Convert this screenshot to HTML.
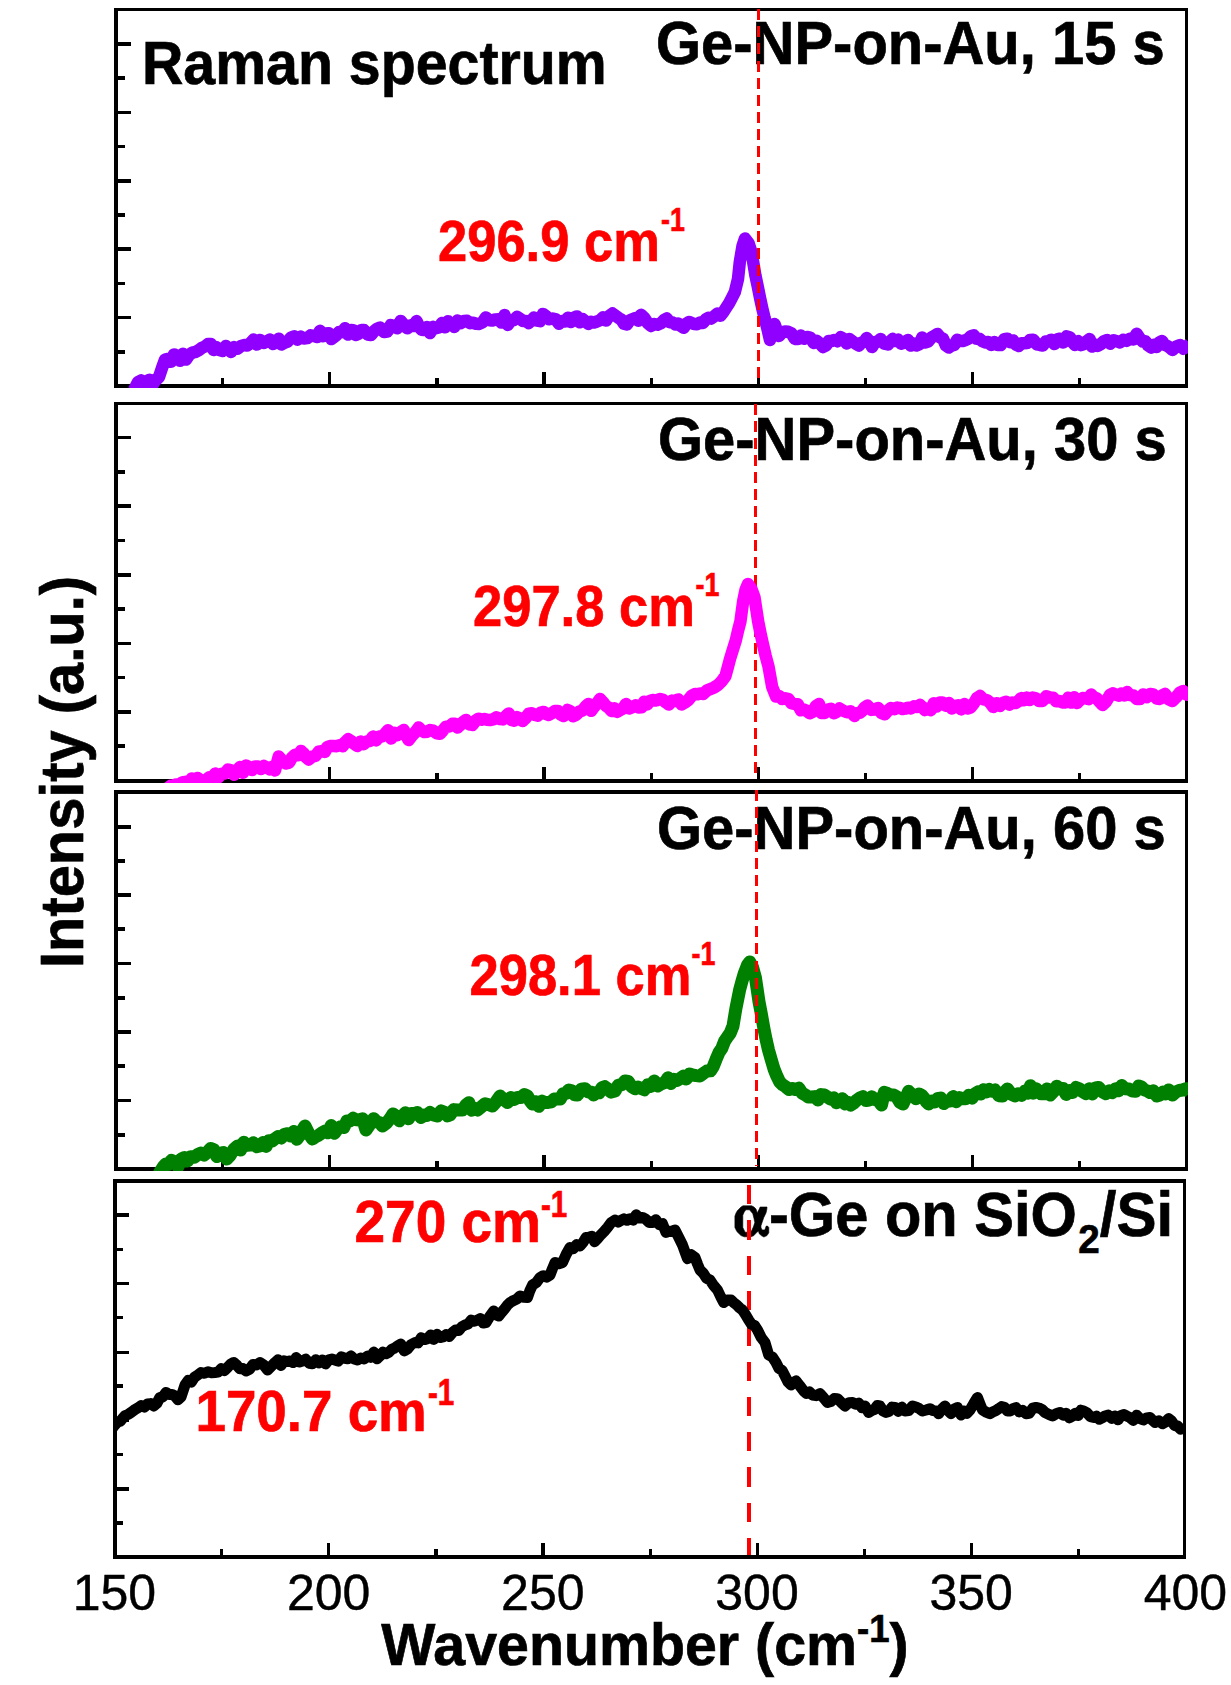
<!DOCTYPE html>
<html><head><meta charset="utf-8"><title>Raman spectrum</title>
<style>
html,body{margin:0;padding:0;background:#fff;}
body{width:1231px;height:1685px;overflow:hidden;font-family:"Liberation Sans",sans-serif;}
svg{display:block}
text{font-family:"Liberation Sans",sans-serif;}
.t{stroke:#000;stroke-width:0.45px}
.b{font-weight:bold;stroke:#000;stroke-width:0.7px}
.r{fill:#ff0000;font-weight:bold;stroke:#ff0000;stroke-width:0.7px}
</style></head><body>
<svg width="1231" height="1685" viewBox="0 0 1231 1685">
<rect width="1231" height="1685" fill="#fff"/>

<defs>
<clipPath id="c0"><rect x="114" y="8" width="1074" height="380"/></clipPath>
<clipPath id="c1"><rect x="114" y="402" width="1074" height="381"/></clipPath>
<clipPath id="c2"><rect x="114" y="790" width="1074" height="381"/></clipPath>
<clipPath id="c3"><rect x="113" y="1179" width="1070" height="380"/></clipPath>
</defs>
<g fill="#000" shape-rendering="crispEdges">
<rect x="114" y="8" width="1074" height="3"/>
<rect x="114" y="384" width="1074" height="4"/>
<rect x="114" y="8" width="4" height="380"/>
<rect x="1185" y="8" width="3" height="380"/>
<rect x="118" y="42.15" width="13" height="3.5"/>
<rect x="118" y="110.55" width="13" height="3.5"/>
<rect x="118" y="179.15" width="13" height="3.5"/>
<rect x="118" y="247.45" width="13" height="3.5"/>
<rect x="118" y="315.85" width="13" height="3.5"/>
<rect x="118" y="76.15" width="6.5" height="3.5"/>
<rect x="118" y="144.75" width="6.5" height="3.5"/>
<rect x="118" y="213.15" width="6.5" height="3.5"/>
<rect x="118" y="281.55" width="6.5" height="3.5"/>
<rect x="118" y="350.05" width="6.5" height="3.5"/>
<rect x="221.1" y="378" width="3.2" height="6"/>
<rect x="328.2" y="372" width="3.2" height="12"/>
<rect x="435.3" y="378" width="3.2" height="6"/>
<rect x="542.4" y="372" width="3.2" height="12"/>
<rect x="649.5" y="378" width="3.2" height="6"/>
<rect x="756.6" y="372" width="3.2" height="12"/>
<rect x="863.7" y="378" width="3.2" height="6"/>
<rect x="970.8" y="372" width="3.2" height="12"/>
<rect x="1077.9" y="378" width="3.2" height="6"/>
<rect x="114" y="402" width="1074" height="3"/>
<rect x="114" y="779" width="1074" height="4"/>
<rect x="114" y="402" width="4" height="381"/>
<rect x="1185" y="402" width="3" height="381"/>
<rect x="118" y="435.95" width="13" height="3.5"/>
<rect x="118" y="504.45" width="13" height="3.5"/>
<rect x="118" y="573.15" width="13" height="3.5"/>
<rect x="118" y="641.75" width="13" height="3.5"/>
<rect x="118" y="710.15" width="13" height="3.5"/>
<rect x="118" y="470.05" width="6.5" height="3.5"/>
<rect x="118" y="538.55" width="6.5" height="3.5"/>
<rect x="118" y="607.05" width="6.5" height="3.5"/>
<rect x="118" y="675.75" width="6.5" height="3.5"/>
<rect x="118" y="744.15" width="6.5" height="3.5"/>
<rect x="221.1" y="773" width="3.2" height="6"/>
<rect x="328.2" y="767" width="3.2" height="12"/>
<rect x="435.3" y="773" width="3.2" height="6"/>
<rect x="542.4" y="767" width="3.2" height="12"/>
<rect x="649.5" y="773" width="3.2" height="6"/>
<rect x="756.6" y="767" width="3.2" height="12"/>
<rect x="863.7" y="773" width="3.2" height="6"/>
<rect x="970.8" y="767" width="3.2" height="12"/>
<rect x="1077.9" y="773" width="3.2" height="6"/>
<rect x="114" y="790" width="1074" height="4"/>
<rect x="114" y="1167" width="1074" height="4"/>
<rect x="114" y="790" width="4" height="381"/>
<rect x="1185" y="790" width="3" height="381"/>
<rect x="118" y="825.05" width="13" height="3.5"/>
<rect x="118" y="893.35" width="13" height="3.5"/>
<rect x="118" y="961.65" width="13" height="3.5"/>
<rect x="118" y="1030.45" width="13" height="3.5"/>
<rect x="118" y="1098.75" width="13" height="3.5"/>
<rect x="118" y="859.05" width="6.5" height="3.5"/>
<rect x="118" y="927.35" width="6.5" height="3.5"/>
<rect x="118" y="996.05" width="6.5" height="3.5"/>
<rect x="118" y="1064.45" width="6.5" height="3.5"/>
<rect x="118" y="1133.15" width="6.5" height="3.5"/>
<rect x="221.1" y="1161" width="3.2" height="6"/>
<rect x="328.2" y="1155" width="3.2" height="12"/>
<rect x="435.3" y="1161" width="3.2" height="6"/>
<rect x="542.4" y="1155" width="3.2" height="12"/>
<rect x="649.5" y="1161" width="3.2" height="6"/>
<rect x="756.6" y="1155" width="3.2" height="12"/>
<rect x="863.7" y="1161" width="3.2" height="6"/>
<rect x="970.8" y="1155" width="3.2" height="12"/>
<rect x="1077.9" y="1161" width="3.2" height="6"/>
<rect x="113" y="1179" width="1073" height="4"/>
<rect x="113" y="1555" width="1073" height="4"/>
<rect x="113" y="1179" width="4" height="380"/>
<rect x="1183" y="1179" width="3" height="380"/>
<rect x="117" y="1213.45" width="12" height="3.5"/>
<rect x="117" y="1281.85" width="12" height="3.5"/>
<rect x="117" y="1350.55" width="12" height="3.5"/>
<rect x="117" y="1418.75" width="12" height="3.5"/>
<rect x="117" y="1487.05" width="12" height="3.5"/>
<rect x="117" y="1247.75" width="5.5" height="3.5"/>
<rect x="117" y="1315.95" width="5.5" height="3.5"/>
<rect x="117" y="1384.25" width="5.5" height="3.5"/>
<rect x="117" y="1452.55" width="5.5" height="3.5"/>
<rect x="117" y="1521.25" width="5.5" height="3.5"/>
<rect x="220.1" y="1549" width="3.2" height="6"/>
<rect x="327.2" y="1543" width="3.2" height="12"/>
<rect x="434.3" y="1549" width="3.2" height="6"/>
<rect x="541.4" y="1543" width="3.2" height="12"/>
<rect x="648.5" y="1549" width="3.2" height="6"/>
<rect x="755.6" y="1543" width="3.2" height="12"/>
<rect x="862.7" y="1549" width="3.2" height="6"/>
<rect x="969.8" y="1543" width="3.2" height="12"/>
<rect x="1076.9" y="1549" width="3.2" height="6"/>
</g>
<polyline clip-path="url(#c0)" points="134.0,390.0 138.0,382.0 141.0,380.5 144.0,384.4 147.0,381.0 149.7,379.8 152.3,385.4 155.0,381.0 159.0,377.0 162.0,368.0 165.0,359.5 168.0,358.8 171.0,361.8 174.0,354.4 177.0,357.5 180.0,360.8 183.0,353.7 186.0,359.6 189.0,355.0 192.3,352.7 195.7,351.9 199.0,350.0 202.0,347.7 205.0,346.5 208.0,344.0 210.8,344.1 213.5,350.0 216.2,347.1 219.0,350.0 222.5,350.9 226.0,346.0 228.5,349.0 231.0,352.0 234.2,347.2 237.5,348.6 240.8,346.2 244.0,345.0 247.2,345.6 250.4,343.2 253.6,339.6 256.8,344.6 260.0,340.0 264.0,343.0 267.0,341.2 270.0,339.6 273.0,344.1 276.0,342.0 278.7,338.7 281.3,344.5 284.0,343.0 287.5,341.6 291.0,337.5 294.2,336.3 297.5,339.7 300.8,336.7 304.0,338.5 307.3,338.1 310.7,335.3 314.0,336.0 317.0,336.9 320.0,330.8 323.0,336.2 326.0,333.5 328.7,333.2 331.3,339.1 334.0,337.0 336.5,335.0 339.0,332.0 342.0,332.2 345.0,328.3 348.0,334.6 351.0,330.0 353.5,330.2 356.0,335.0 358.7,333.6 361.3,330.0 364.0,330.0 367.5,334.5 371.0,335.0 374.0,331.3 377.0,328.7 380.0,327.5 384.0,332.0 387.3,331.5 390.7,325.1 394.0,326.0 397.3,328.3 400.7,320.9 404.0,325.0 407.3,328.3 410.7,325.2 414.0,326.0 416.5,321.1 419.0,326.0 421.5,329.7 424.0,330.0 427.0,327.0 430.0,333.1 433.0,326.8 436.0,328.2 439.0,327.5 442.0,323.0 445.0,327.3 448.0,321.2 451.0,323.7 454.2,327.0 457.5,320.5 460.8,323.2 464.0,321.0 467.0,320.8 470.0,323.2 473.0,322.7 476.0,323.7 479.2,323.9 482.5,322.4 485.8,317.4 489.0,320.0 492.1,320.6 495.2,319.4 498.4,319.3 501.5,322.6 504.6,315.1 507.8,324.9 510.9,320.6 514.0,320.0 517.0,316.9 520.0,318.8 523.0,321.1 526.0,321.0 528.7,323.1 531.3,320.6 534.0,317.5 537.0,320.6 540.0,321.1 543.0,313.9 546.0,316.0 549.2,319.3 552.5,318.5 555.8,319.4 559.0,323.7 562.0,320.9 565.0,321.5 568.0,317.8 571.0,322.0 574.0,317.5 576.9,316.4 579.7,322.3 582.6,319.0 585.4,321.3 588.3,323.9 591.1,321.8 594.0,322.5 597.0,321.5 600.0,320.3 603.0,317.3 606.0,320.6 609.0,316.0 612.5,313.5 616.0,316.0 618.7,318.0 621.3,319.6 624.0,323.7 626.9,324.5 629.7,320.3 632.6,319.2 635.4,318.0 638.3,320.7 641.1,314.8 644.0,317.5 647.5,322.8 651.0,326.0 654.2,324.0 657.5,324.7 660.8,323.3 664.0,320.0 666.8,318.5 669.7,322.3 672.5,322.5 675.3,324.5 678.2,323.5 681.0,326.0 683.7,327.8 686.3,323.8 689.0,322.0 691.5,322.9 694.0,324.0 697.0,324.2 700.0,322.6 703.0,323.0 705.8,319.4 708.5,317.7 711.2,318.6 714.0,316.5 717.2,313.7 720.4,315.7 723.6,311.8 726.3,307.5 729.0,303.4 731.9,297.9 734.8,292.2 738.0,279.0 739.8,262.0 742.5,246.0 745.0,238.5 748.5,243.0 751.7,253.0 755.4,275.4 757.7,286.2 760.0,297.8 762.4,308.8 764.7,318.4 767.4,328.6 770.0,340.0 772.2,331.8 774.5,324.0 776.8,330.2 779.0,336.0 782.0,332.4 785.0,331.5 788.2,331.8 791.5,333.4 794.8,338.9 798.0,339.0 801.0,335.6 804.0,338.7 807.0,337.0 810.3,337.6 813.7,343.0 817.0,341.0 820.0,343.5 823.0,347.1 826.0,345.5 828.7,341.0 831.3,341.1 834.0,340.0 837.3,341.3 840.7,337.2 844.0,339.0 846.7,343.5 849.3,339.0 852.0,341.0 855.5,343.5 859.0,345.5 861.5,342.5 864.1,341.9 866.6,338.0 869.3,340.9 872.0,347.0 874.9,342.0 877.7,341.9 880.6,339.0 884.3,343.7 888.0,344.5 890.4,341.2 892.7,339.0 895.5,341.0 898.2,339.7 901.0,343.6 905.0,342.5 907.9,339.9 910.7,345.6 913.6,343.7 916.4,345.5 919.3,344.2 922.1,337.6 925.0,342.5 928.1,341.5 931.2,337.7 934.4,335.8 937.5,334.0 940.3,337.6 943.1,338.8 945.9,345.5 948.7,347.5 951.5,345.6 954.4,344.9 957.2,339.7 960.0,341.0 962.8,341.0 965.5,340.1 968.2,338.9 971.0,336.0 973.8,335.4 976.5,338.8 979.2,338.7 982.0,341.0 985.1,342.4 988.2,342.0 991.3,345.1 994.4,342.0 997.5,345.0 1000.8,345.0 1004.2,339.2 1007.5,338.7 1010.3,342.1 1013.1,340.4 1015.9,344.6 1018.7,346.0 1021.5,343.3 1024.3,343.2 1027.2,343.1 1030.0,340.0 1033.3,339.7 1036.7,344.3 1040.0,345.0 1042.9,345.5 1045.7,341.5 1048.6,341.1 1051.4,339.7 1054.3,344.1 1057.1,339.3 1060.0,338.7 1063.3,342.6 1066.7,336.4 1070.0,337.5 1072.5,342.3 1075.0,345.0 1078.0,341.1 1081.0,345.1 1084.0,344.1 1087.0,341.0 1089.6,339.1 1092.2,346.6 1094.9,344.6 1097.5,346.0 1100.7,344.3 1103.8,341.3 1107.0,340.0 1110.2,343.7 1113.5,340.2 1116.8,341.2 1120.0,342.5 1123.3,339.8 1126.7,340.9 1130.0,338.7 1133.3,339.4 1136.7,333.8 1140.0,338.7 1142.8,341.6 1145.5,341.3 1148.2,345.5 1151.0,347.5 1153.8,344.7 1156.5,347.1 1159.2,342.5 1162.0,341.0 1164.6,344.9 1167.2,345.8 1169.9,347.8 1172.5,350.0 1176.2,346.5 1180.0,345.0 1183.3,348.7 1186.7,346.7 1190.0,343.5" fill="none" stroke="#8f00ff" stroke-width="12.5" stroke-linejoin="round" stroke-linecap="butt"/>
<polyline clip-path="url(#c2)" points="155.0,1178.0 157.5,1176.8 160.0,1172.0 163.5,1166.5 165.8,1164.1 168.0,1164.5 171.5,1160.3 175.0,1162.0 178.1,1166.5 181.2,1158.9 184.4,1157.6 187.5,1161.0 190.8,1156.8 194.2,1157.2 197.5,1154.7 200.8,1153.1 204.2,1155.1 207.5,1152.0 210.6,1148.5 213.8,1149.6 216.9,1156.6 220.0,1153.5 223.3,1152.6 226.7,1159.1 230.0,1155.5 233.8,1149.4 237.5,1146.0 240.6,1150.0 243.8,1142.3 246.9,1145.4 250.0,1145.0 253.3,1142.8 256.7,1146.7 260.0,1146.0 263.0,1142.5 266.0,1146.4 269.0,1140.7 272.0,1141.1 275.0,1138.7 278.1,1136.5 281.2,1138.0 284.4,1134.3 287.5,1133.7 290.6,1136.0 293.8,1131.5 296.9,1139.3 300.0,1135.0 302.5,1130.0 305.0,1126.0 308.8,1133.6 312.5,1139.0 315.6,1136.8 318.8,1135.2 321.9,1132.8 325.0,1131.0 328.1,1132.8 331.2,1125.5 334.4,1133.2 337.5,1128.7 340.6,1126.7 343.8,1127.5 346.9,1121.0 350.0,1121.0 353.1,1118.2 356.2,1119.8 359.4,1119.9 362.5,1118.7 366.0,1130.0 368.6,1126.3 371.1,1122.2 373.7,1118.7 376.6,1121.9 379.6,1122.5 382.5,1126.0 386.2,1123.3 390.0,1118.7 393.1,1113.9 396.2,1116.2 399.4,1120.8 402.5,1116.0 405.5,1112.8 408.5,1118.7 411.5,1113.5 414.5,1113.4 417.5,1112.5 421.0,1117.5 424.0,1114.9 427.0,1115.4 430.0,1112.5 433.8,1114.9 437.5,1116.0 441.2,1110.9 445.0,1112.5 447.5,1115.9 450.0,1115.0 453.8,1109.6 457.5,1110.0 460.0,1109.9 462.5,1110.0 466.0,1105.0 468.9,1102.8 471.8,1110.2 474.6,1108.3 477.5,1110.0 481.2,1106.9 485.0,1103.7 488.8,1104.7 492.5,1106.0 496.2,1101.7 500.0,1096.0 503.8,1099.4 507.5,1102.5 510.8,1097.6 514.2,1099.4 517.5,1097.5 520.8,1097.5 524.2,1094.6 527.5,1096.0 530.0,1100.7 532.5,1104.0 535.6,1101.7 538.8,1106.3 541.9,1101.1 545.0,1102.5 548.1,1102.4 551.2,1101.8 554.4,1099.0 557.5,1098.7 560.3,1099.0 563.1,1093.7 565.9,1093.6 568.7,1090.0 571.6,1090.8 574.6,1094.7 577.5,1095.0 581.2,1089.2 585.0,1088.7 587.9,1091.9 590.8,1091.9 593.7,1095.0 596.5,1092.5 599.2,1092.8 602.0,1087.8 604.7,1086.6 607.5,1088.7 611.2,1092.1 615.0,1091.0 618.3,1085.3 621.7,1084.9 625.0,1081.0 628.3,1081.5 631.7,1086.7 635.0,1088.7 638.1,1087.0 641.2,1088.5 644.4,1089.8 647.5,1085.0 650.8,1086.4 654.2,1081.0 657.5,1086.0 661.2,1083.9 665.0,1082.5 668.0,1077.8 671.0,1083.5 674.0,1079.3 677.0,1080.5 680.0,1078.7 683.1,1076.3 686.2,1079.0 689.4,1074.0 692.5,1075.0 696.2,1075.6 700.0,1076.0 703.0,1073.6 706.8,1071.1 710.5,1070.8 713.2,1066.7 716.0,1059.6 718.9,1052.7 721.8,1048.4 724.6,1041.2 727.4,1037.0 730.2,1033.1 733.0,1026.0 735.8,1009.0 739.5,990.4 741.9,981.3 744.2,973.6 747.5,965.0 749.8,962.0 752.5,967.0 755.4,977.4 759.0,1001.7 761.4,1014.3 763.8,1027.8 766.1,1039.5 768.5,1050.0 771.2,1059.5 774.0,1069.0 776.9,1076.2 779.7,1082.0 782.8,1084.9 785.9,1086.9 789.0,1089.5 792.2,1088.4 795.5,1089.6 798.8,1088.2 802.0,1093.0 805.2,1094.8 808.3,1097.1 811.5,1097.0 814.8,1096.6 818.0,1100.0 821.2,1094.6 824.5,1095.0 827.5,1097.1 830.5,1099.1 833.5,1097.9 836.5,1102.8 839.5,1100.7 842.3,1098.7 845.1,1104.0 847.9,1102.3 850.7,1105.0 853.8,1103.0 856.9,1100.1 860.0,1098.0 863.0,1096.6 866.0,1100.5 869.0,1100.0 871.7,1096.8 874.3,1099.5 877.0,1099.0 879.2,1101.8 881.5,1105.0 884.3,1092.3 887.4,1093.4 890.6,1095.1 893.7,1095.0 896.8,1096.9 899.9,1102.3 903.0,1104.0 905.8,1098.0 908.6,1091.3 912.3,1094.9 916.0,1098.8 919.0,1094.0 921.5,1095.1 924.0,1098.0 926.4,1101.8 928.7,1104.0 931.6,1101.0 934.6,1102.0 937.5,1098.7 940.6,1098.0 943.8,1103.6 946.9,1101.3 950.0,1101.0 953.1,1096.6 956.2,1101.7 959.4,1097.6 962.5,1098.7 965.6,1098.8 968.8,1095.2 971.9,1098.2 975.0,1093.7 977.9,1091.9 980.7,1094.0 983.6,1089.7 986.4,1092.1 989.3,1089.4 992.1,1091.2 995.0,1090.0 998.8,1095.7 1002.5,1096.0 1005.0,1091.7 1007.5,1089.0 1011.2,1094.1 1015.0,1096.0 1018.3,1093.7 1021.7,1095.3 1025.0,1091.0 1027.8,1093.3 1030.5,1085.7 1033.2,1093.2 1036.0,1088.7 1038.6,1091.0 1041.1,1093.8 1043.7,1093.7 1047.0,1088.9 1050.2,1095.1 1053.5,1091.6 1056.7,1086.2 1060.0,1088.7 1063.1,1088.6 1066.2,1094.4 1069.4,1090.7 1072.5,1092.5 1076.0,1087.5 1079.3,1088.8 1082.7,1091.7 1086.0,1093.7 1089.2,1088.8 1092.3,1093.9 1095.5,1088.0 1098.7,1087.5 1102.3,1091.7 1106.0,1093.7 1109.2,1090.9 1112.3,1092.8 1115.5,1088.8 1118.7,1090.7 1121.8,1085.5 1125.0,1088.7 1128.8,1089.0 1132.5,1091.0 1135.6,1091.2 1138.7,1086.0 1141.5,1086.9 1144.3,1089.9 1147.2,1090.9 1150.0,1092.5 1153.3,1090.8 1156.7,1096.0 1160.0,1095.0 1162.9,1092.1 1165.8,1093.9 1168.7,1090.0 1172.5,1095.0 1175.8,1091.9 1179.2,1090.5 1182.5,1090.0 1186.2,1088.7 1190.0,1092.5" fill="none" stroke="#008000" stroke-width="13" stroke-linejoin="round" stroke-linecap="butt"/>
<text class="t" x="114.4" y="1609.7" font-size="50" text-anchor="middle">150</text>
<text class="t" x="328.6" y="1609.7" font-size="50" text-anchor="middle">200</text>
<text class="t" x="542.8" y="1609.7" font-size="50" text-anchor="middle">250</text>
<text class="t" x="757.0" y="1609.7" font-size="50" text-anchor="middle">300</text>
<text class="t" x="971.2" y="1609.7" font-size="50" text-anchor="middle">350</text>
<text class="t" x="1185.4" y="1609.7" font-size="50" text-anchor="middle">400</text>
<text class="b" transform="translate(381.3,1664.6) scale(0.962,1)" font-size="59.6" >Wavenumber (cm<tspan dy="-23" font-size="38">-1</tspan><tspan dy="23">)</tspan></text>
<text class="b" transform="translate(82.5,968) rotate(-90) scale(0.956,1)" font-size="60.5">Intensity (a.u.)</text>
<text class="b" transform="translate(142,84) scale(0.939,1)" font-size="61" >Raman spectrum</text>
<text class="b" transform="translate(656,64) scale(0.935,1)" font-size="62" >Ge-NP-on-Au, 15 s</text>
<text class="b" transform="translate(658,460) scale(0.935,1)" font-size="62" >Ge-NP-on-Au, 30 s</text>
<text class="b" transform="translate(657,849) scale(0.935,1)" font-size="62" >Ge-NP-on-Au, 60 s</text>
<path transform="translate(728,1195)" d="M13.0,12.0 L15.0,10.8 L23.6,10.8 L26.0,12.0 L28.0,14.0 L29.2,17.9 L31.3,14.0 L32.1,12.0 L39.0,12.0 L38.8,14.6 L38.0,17.9 L35.7,22.7 L33.9,28.0 L32.9,30.9 L33.1,32.9 L34.1,34.9 L36.8,34.9 L38.2,31.1 L39.6,31.1 L40.8,32.5 L40.8,37.8 L39.0,40.6 L35.9,42.0 L33.3,40.6 L31.1,38.6 L30.5,35.9 L28.4,37.8 L25.6,40.8 L22.7,41.8 L16.2,41.8 L13.0,40.6 L8.9,36.6 L6.9,32.5 L6.9,21.1 L8.1,17.9 L9.3,15.8Z M17.9,14.8 L21.5,14.8 L24.8,18.7 L26.0,23.6 L26.8,27.6 L25.6,31.3 L24.0,34.9 L22.7,37.2 L17.1,37.2 L14.8,32.5 L14.8,20.3 L16.2,17.1Z" fill="#000" fill-rule="evenodd" stroke="#000" stroke-width="0.6" stroke-linejoin="round"/>
<text class="b" transform="translate(769,1236) scale(0.946,1)" font-size="63" >-Ge on SiO</text>
<text class="b" transform="translate(1078.3,1252.6) scale(0.93,1)" font-size="41.5" >2</text>
<text class="b" transform="translate(1099.8,1236) scale(0.952,1)" font-size="63" >/Si</text>
<text class="r" transform="translate(438,261) scale(0.91,1)" font-size="57.7" >296.9 cm</text><text class="r" transform="translate(661,231) scale(0.8,1)" font-size="33.5" >-1</text>
<text class="r" transform="translate(473,626) scale(0.91,1)" font-size="57.7" >297.8 cm</text><text class="r" transform="translate(695.5,596) scale(0.8,1)" font-size="33.5" >-1</text>
<text class="r" transform="translate(469.5,995) scale(0.91,1)" font-size="57.7" >298.1 cm</text><text class="r" transform="translate(691.5,965) scale(0.8,1)" font-size="33.5" >-1</text>
<text class="r" transform="translate(354.5,1242) scale(0.94,1)" font-size="58.5" >270 cm</text><text class="r" transform="translate(541,1216.5) scale(0.8,1)" font-size="37" >-1</text>
<text class="r" transform="translate(195.5,1431) scale(0.952,1)" font-size="57.5" >170.7 cm</text><text class="r" transform="translate(428,1405) scale(0.8,1)" font-size="37" >-1</text>
<g fill="#ff0000" shape-rendering="crispEdges"><rect x="757.0" y="9.3" width="3" height="11.0"/><rect x="757.0" y="26.4" width="3" height="11.0"/><rect x="757.0" y="43.4" width="3" height="11.0"/><rect x="757.0" y="60.5" width="3" height="11.0"/><rect x="757.0" y="77.5" width="3" height="11.0"/><rect x="757.0" y="94.5" width="3" height="11.0"/><rect x="757.0" y="111.6" width="3" height="11.0"/><rect x="757.0" y="128.7" width="3" height="11.0"/><rect x="757.0" y="145.7" width="3" height="11.0"/><rect x="757.0" y="162.8" width="3" height="11.0"/><rect x="757.0" y="179.8" width="3" height="11.0"/><rect x="757.0" y="196.9" width="3" height="11.0"/><rect x="757.0" y="213.9" width="3" height="11.0"/><rect x="757.0" y="231.0" width="3" height="11.0"/><rect x="757.0" y="248.0" width="3" height="11.0"/><rect x="757.0" y="265.1" width="3" height="11.0"/><rect x="757.0" y="282.1" width="3" height="11.0"/><rect x="757.0" y="299.2" width="3" height="11.0"/><rect x="757.0" y="316.2" width="3" height="11.0"/><rect x="757.0" y="333.3" width="3" height="11.0"/><rect x="757.0" y="350.3" width="3" height="11.0"/><rect x="757.0" y="367.4" width="3" height="11.0"/><rect x="754.0" y="404.0" width="3" height="11.0"/><rect x="754.0" y="421.1" width="3" height="11.0"/><rect x="754.0" y="438.1" width="3" height="11.0"/><rect x="754.0" y="455.2" width="3" height="11.0"/><rect x="754.0" y="472.2" width="3" height="11.0"/><rect x="754.0" y="489.3" width="3" height="11.0"/><rect x="754.0" y="506.3" width="3" height="11.0"/><rect x="754.0" y="523.4" width="3" height="11.0"/><rect x="754.0" y="540.4" width="3" height="11.0"/><rect x="754.0" y="557.4" width="3" height="11.0"/><rect x="754.0" y="574.5" width="3" height="11.0"/><rect x="754.0" y="591.5" width="3" height="11.0"/><rect x="754.0" y="608.6" width="3" height="11.0"/><rect x="754.0" y="625.6" width="3" height="11.0"/><rect x="754.0" y="642.7" width="3" height="11.0"/><rect x="754.0" y="659.7" width="3" height="11.0"/><rect x="754.0" y="676.8" width="3" height="11.0"/><rect x="754.0" y="693.8" width="3" height="11.0"/><rect x="754.0" y="710.9" width="3" height="11.0"/><rect x="754.0" y="727.9" width="3" height="11.0"/><rect x="754.0" y="745.0" width="3" height="11.0"/><rect x="754.0" y="762.0" width="3" height="11.0"/><rect x="755.0" y="790.0" width="3" height="11.0"/><rect x="755.0" y="807.0" width="3" height="11.0"/><rect x="755.0" y="824.1" width="3" height="11.0"/><rect x="755.0" y="841.1" width="3" height="11.0"/><rect x="755.0" y="858.2" width="3" height="11.0"/><rect x="755.0" y="875.2" width="3" height="11.0"/><rect x="755.0" y="892.3" width="3" height="11.0"/><rect x="755.0" y="909.3" width="3" height="11.0"/><rect x="755.0" y="926.4" width="3" height="11.0"/><rect x="755.0" y="943.4" width="3" height="11.0"/><rect x="755.0" y="960.5" width="3" height="11.0"/><rect x="755.0" y="977.5" width="3" height="11.0"/><rect x="755.0" y="994.6" width="3" height="11.0"/><rect x="755.0" y="1011.6" width="3" height="11.0"/><rect x="755.0" y="1028.7" width="3" height="11.0"/><rect x="755.0" y="1045.7" width="3" height="11.0"/><rect x="755.0" y="1062.8" width="3" height="11.0"/><rect x="755.0" y="1079.8" width="3" height="11.0"/><rect x="755.0" y="1096.9" width="3" height="11.0"/><rect x="755.0" y="1113.9" width="3" height="11.0"/><rect x="755.0" y="1131.0" width="3" height="11.0"/><rect x="755.0" y="1148.0" width="3" height="11.0"/><rect x="755.0" y="1165.1" width="3" height="0.9"/></g>
<polyline clip-path="url(#c1)" points="168.0,788.0 170.7,785.8 173.3,785.4 176.0,784.5 179.2,784.6 182.3,782.4 185.5,781.8 188.7,784.1 191.8,778.4 195.0,782.0 197.8,778.0 200.7,780.5 203.5,780.7 206.3,779.9 209.2,777.2 212.0,778.0 215.2,773.6 218.5,777.2 221.8,773.7 225.0,773.5 228.0,769.6 231.0,770.4 234.0,774.8 237.0,770.5 240.0,767.0 243.0,772.7 246.0,765.6 249.0,766.9 252.0,770.1 255.0,766.5 258.0,766.6 261.0,769.1 264.0,766.0 267.0,767.5 269.7,769.3 272.3,766.7 275.0,770.5 278.7,756.5 282.4,760.8 286.0,763.5 289.0,762.7 292.0,757.5 295.0,754.7 298.0,755.3 301.0,751.0 303.6,753.4 306.1,757.3 308.7,759.5 312.0,756.7 315.4,756.0 318.7,751.7 322.0,751.0 324.7,752.0 327.3,747.0 330.0,746.0 333.3,746.0 336.7,746.2 340.0,745.0 342.8,746.1 345.5,741.9 348.2,739.2 351.0,741.0 354.2,743.8 357.5,746.0 360.6,741.6 363.8,744.1 366.9,741.4 370.0,741.0 373.0,736.6 376.0,740.4 379.0,736.4 382.0,736.6 385.0,733.7 388.1,730.3 391.2,738.5 394.4,732.8 397.5,735.0 400.6,732.2 403.7,730.0 406.2,735.7 408.7,740.0 412.0,735.7 415.4,732.2 418.7,727.5 421.5,730.4 424.4,732.1 427.2,731.7 430.0,730.0 433.3,730.7 436.7,733.2 440.0,733.7 442.5,731.0 445.8,726.7 449.2,726.5 452.5,723.7 455.0,723.8 457.5,727.5 460.3,725.1 463.2,721.9 466.0,720.0 469.2,724.3 472.5,725.0 475.6,720.6 478.7,718.7 481.5,719.7 484.4,718.9 487.2,719.7 490.0,720.0 493.2,719.4 496.4,717.4 499.6,719.0 502.8,719.4 506.0,716.0 508.8,713.4 511.5,720.0 514.2,720.7 517.0,717.1 519.8,718.4 522.5,721.0 525.6,718.2 528.7,713.7 531.8,713.3 534.9,714.9 537.9,715.6 541.0,712.5 543.6,711.9 546.1,713.9 548.7,715.0 551.9,713.1 555.0,711.0 557.9,710.9 560.8,714.6 563.7,716.0 567.5,710.0 570.3,711.2 573.2,716.1 576.0,715.0 579.3,711.6 582.7,710.3 586.0,706.0 588.6,703.9 591.1,710.8 593.7,707.5 596.9,703.6 600.0,699.0 603.0,702.2 606.0,706.0 608.8,707.7 611.6,711.1 614.4,708.2 617.2,711.9 620.0,710.0 623.0,708.6 626.0,704.0 629.2,708.4 632.4,707.1 635.5,705.4 638.7,707.5 641.5,707.3 644.2,701.7 647.0,704.5 649.7,701.1 652.5,700.0 656.2,700.6 660.0,699.0 663.0,699.8 666.0,702.5 669.0,704.6 672.0,700.6 675.0,701.0 678.3,699.4 681.7,704.5 685.0,702.5 688.3,700.0 691.7,695.8 695.0,694.0 697.7,694.2 700.3,693.4 703.0,694.0 706.8,690.6 710.5,689.0 714.2,687.4 718.0,685.0 721.8,681.1 725.5,676.0 727.8,667.3 730.0,659.0 732.9,649.7 735.8,640.3 738.1,630.4 740.4,621.7 743.2,601.0 745.5,590.0 748.0,584.0 751.5,589.0 754.5,597.4 758.2,621.7 760.5,633.2 762.9,644.0 765.7,656.0 768.5,666.5 772.2,687.0 776.0,696.4 779.1,695.9 782.2,699.0 785.3,698.3 788.4,699.1 791.5,703.2 794.6,704.0 797.7,704.2 800.9,710.2 804.0,709.5 806.8,710.9 809.6,713.2 812.7,711.8 815.9,706.2 819.0,704.0 821.7,713.0 824.9,712.9 828.0,709.5 831.0,708.7 834.0,713.2 836.8,711.7 839.5,708.5 843.2,710.8 847.0,712.3 850.7,711.2 854.4,716.0 856.9,713.2 859.5,712.9 862.0,711.0 864.8,707.3 867.5,705.7 871.2,709.9 875.0,709.5 878.2,708.0 881.5,713.1 884.8,714.2 888.0,710.4 891.1,708.0 894.3,709.3 897.4,707.6 899.9,707.9 902.5,709.1 905.0,708.7 908.0,707.7 911.0,708.4 914.0,706.3 917.0,707.0 920.0,705.0 922.5,707.5 925.0,710.0 927.9,708.5 930.8,710.2 933.8,703.2 936.7,706.6 939.6,702.6 942.5,702.5 945.6,705.7 948.8,702.9 951.9,708.5 955.0,706.0 958.1,705.4 961.2,709.4 964.4,704.1 967.5,708.5 970.6,707.5 973.8,703.4 976.9,698.2 980.0,696.0 983.3,699.3 986.7,700.0 990.0,702.5 993.3,706.9 996.7,703.3 1000.0,706.0 1003.1,702.7 1006.2,701.8 1009.4,704.6 1012.5,702.5 1015.4,703.1 1018.2,701.4 1021.1,698.1 1023.9,700.3 1026.8,697.5 1029.6,700.1 1032.5,697.5 1035.8,698.3 1039.2,701.1 1042.5,701.0 1046.2,696.3 1050.0,697.5 1053.1,697.8 1056.2,701.2 1059.4,700.9 1062.5,702.5 1065.4,702.4 1068.3,697.7 1071.2,702.6 1074.2,697.2 1077.1,703.0 1080.0,700.0 1082.8,698.1 1085.6,698.2 1088.4,699.1 1091.2,694.6 1094.0,697.5 1096.8,698.5 1099.7,701.8 1102.5,705.0 1106.2,701.4 1110.0,695.0 1112.9,693.3 1115.7,694.7 1118.6,695.7 1121.4,693.6 1124.3,695.4 1127.1,692.1 1130.0,695.0 1133.3,695.5 1136.7,699.0 1140.0,699.0 1143.3,694.4 1146.7,697.1 1150.0,694.0 1153.3,694.5 1156.7,698.5 1160.0,699.0 1162.5,695.1 1165.0,694.0 1168.8,699.3 1172.5,701.0 1176.2,697.2 1180.0,692.5 1183.3,691.1 1186.7,694.5 1190.0,695.0" fill="none" stroke="#ff00ff" stroke-width="12.5" stroke-linejoin="round" stroke-linecap="butt"/>
<g stroke="#ff0000" stroke-width="4" shape-rendering="crispEdges"><line x1="749" x2="749" y1="1185.0" y2="1204.3"/><line x1="749" x2="749" y1="1220.3" y2="1239.6"/><line x1="749" x2="749" y1="1255.6" y2="1274.9"/><line x1="749" x2="749" y1="1290.9" y2="1310.2"/><line x1="749" x2="749" y1="1326.2" y2="1345.5"/><line x1="749" x2="749" y1="1361.5" y2="1380.8"/><line x1="749" x2="749" y1="1396.8" y2="1416.1"/><line x1="749" x2="749" y1="1432.1" y2="1451.4"/><line x1="749" x2="749" y1="1467.4" y2="1486.7"/><line x1="749" x2="749" y1="1502.7" y2="1522.0"/><line x1="749" x2="749" y1="1538.0" y2="1555.0"/></g>
<polyline clip-path="url(#c3)" points="110.0,1431.0 113.7,1426.5 118.0,1421.5 120.2,1421.5 122.5,1418.5 125.2,1415.6 128.0,1414.5 131.5,1412.1 135.0,1409.5 138.1,1407.7 141.2,1405.6 144.4,1407.1 147.5,1404.0 150.6,1403.6 153.7,1406.0 156.8,1403.4 159.8,1397.6 162.9,1396.8 166.0,1392.5 169.0,1394.4 172.0,1394.5 175.0,1396.0 178.0,1399.8 181.0,1397.0 185.0,1385.0 188.2,1380.5 191.4,1382.0 194.6,1377.1 197.8,1375.0 201.0,1372.5 204.5,1373.3 208.0,1371.8 211.5,1372.8 215.0,1372.5 218.1,1372.1 221.2,1368.7 224.4,1370.6 227.5,1367.5 230.6,1364.1 233.7,1362.5 236.8,1365.2 239.8,1368.8 242.9,1368.6 246.0,1371.0 249.5,1369.3 253.0,1364.5 256.5,1364.9 260.0,1362.5 263.8,1365.1 267.5,1370.0 271.2,1366.3 275.0,1362.5 278.0,1359.8 281.0,1365.4 284.0,1360.9 287.0,1361.6 290.0,1361.0 293.1,1362.6 296.2,1357.6 299.4,1362.0 302.5,1361.0 305.8,1359.2 309.2,1363.2 312.5,1363.7 315.8,1359.8 319.2,1363.1 322.5,1360.0 325.6,1363.9 328.8,1359.9 331.9,1359.1 335.0,1360.0 338.2,1361.2 341.4,1356.9 344.6,1358.2 347.8,1358.7 351.0,1356.0 354.2,1359.0 357.5,1360.0 360.8,1358.1 364.2,1359.0 367.5,1356.0 370.6,1357.3 373.8,1352.1 376.9,1358.8 380.0,1356.0 383.0,1352.2 386.0,1353.7 388.9,1352.3 391.8,1349.3 394.6,1348.1 397.5,1346.0 400.8,1344.1 404.2,1350.9 407.5,1349.0 411.2,1344.5 415.0,1342.5 418.1,1342.9 421.2,1337.7 424.4,1339.6 427.5,1338.7 430.6,1335.1 433.8,1339.4 436.9,1334.3 440.0,1337.5 443.1,1336.9 446.2,1334.5 449.4,1336.4 452.5,1332.5 455.6,1329.9 458.8,1330.5 461.9,1326.8 465.0,1325.0 468.1,1324.0 471.2,1320.0 474.4,1321.3 477.5,1320.0 480.3,1318.5 483.2,1323.0 486.0,1322.5 489.9,1316.2 493.7,1311.0 496.2,1314.9 498.7,1316.0 501.6,1312.3 504.6,1308.8 507.5,1305.0 510.6,1302.2 513.8,1300.4 516.9,1299.0 520.0,1296.0 523.8,1297.3 527.5,1297.5 530.0,1290.3 532.5,1285.0 536.2,1282.7 540.0,1277.5 543.3,1275.7 546.7,1277.1 550.0,1275.0 552.5,1268.5 555.0,1262.5 558.8,1263.8 562.5,1262.5 566.2,1254.3 570.0,1247.5 573.3,1248.6 576.7,1244.6 580.0,1246.0 583.0,1242.5 586.0,1237.5 588.9,1237.2 591.8,1236.3 594.6,1241.7 597.5,1238.7 600.8,1234.8 604.2,1231.4 607.5,1227.5 611.2,1222.5 615.0,1220.0 618.0,1222.1 621.0,1220.4 624.0,1218.8 627.0,1220.3 630.0,1218.7 633.1,1220.1 636.2,1214.8 639.4,1218.0 642.5,1217.5 645.8,1219.2 649.2,1222.4 652.5,1222.5 655.8,1219.8 659.2,1224.6 662.5,1223.7 666.0,1232.5 669.0,1231.2 672.0,1231.5 675.0,1230.0 678.8,1237.4 682.5,1245.0 685.0,1251.9 687.5,1258.7 691.2,1254.8 695.0,1257.5 697.5,1264.0 700.0,1270.0 703.3,1273.2 706.7,1278.4 710.0,1280.0 713.8,1285.7 717.5,1290.0 720.6,1296.5 723.7,1302.5 727.4,1300.1 731.0,1300.0 733.9,1302.7 736.8,1305.0 739.6,1307.9 742.5,1310.0 745.6,1314.7 748.7,1320.0 751.6,1324.3 754.6,1325.6 757.5,1330.0 761.2,1337.5 765.0,1342.5 768.7,1355.0 772.4,1357.0 776.0,1362.5 779.0,1368.4 782.0,1370.3 785.0,1376.0 788.0,1381.9 791.0,1385.0 793.5,1382.5 796.0,1381.0 799.9,1385.9 803.7,1391.0 806.6,1393.5 809.6,1391.9 812.5,1395.0 816.2,1395.7 820.0,1393.7 823.8,1398.0 827.5,1402.5 830.8,1401.5 834.2,1398.6 837.5,1398.7 841.2,1402.4 845.0,1406.0 848.8,1402.7 852.5,1402.5 855.6,1404.3 858.8,1403.0 861.9,1407.6 865.0,1406.0 868.7,1412.5 871.5,1410.6 874.4,1409.6 877.2,1405.5 880.0,1406.0 883.0,1410.9 886.0,1412.5 889.0,1411.3 892.0,1407.1 895.0,1407.5 898.3,1411.4 901.7,1407.1 905.0,1411.0 908.8,1410.6 912.5,1406.0 915.8,1407.0 919.2,1408.6 922.5,1411.0 926.2,1410.0 930.0,1408.7 932.9,1410.6 935.8,1410.9 938.7,1413.7 941.9,1409.0 945.0,1406.0 948.0,1410.7 951.0,1413.7 954.2,1409.0 957.5,1407.5 961.0,1415.0 964.0,1411.0 967.0,1413.2 970.0,1410.0 973.8,1403.5 977.5,1397.5 980.0,1403.9 982.5,1410.0 986.2,1412.1 990.0,1413.7 992.9,1411.8 995.8,1410.6 998.7,1408.7 1001.6,1406.6 1004.6,1407.3 1007.5,1411.0 1010.3,1410.9 1013.2,1408.6 1016.0,1407.5 1019.3,1411.8 1022.7,1410.3 1026.0,1413.7 1029.3,1413.3 1032.7,1408.2 1036.0,1407.5 1039.0,1408.1 1042.0,1409.5 1045.0,1412.5 1048.8,1414.4 1052.5,1416.0 1056.2,1413.8 1060.0,1412.5 1063.1,1415.2 1066.2,1413.3 1069.4,1417.9 1072.5,1416.0 1075.3,1413.2 1078.1,1415.6 1080.9,1410.2 1083.7,1411.0 1087.0,1412.8 1090.4,1416.7 1093.7,1417.5 1096.5,1416.1 1099.3,1419.2 1102.2,1417.8 1105.0,1416.0 1108.3,1415.1 1111.7,1418.4 1115.0,1416.0 1118.0,1419.8 1121.0,1415.5 1124.0,1414.6 1127.0,1416.2 1130.0,1417.5 1133.3,1420.4 1136.7,1415.2 1140.0,1418.7 1143.3,1420.0 1146.7,1417.9 1150.0,1417.5 1152.5,1420.2 1155.0,1422.5 1158.8,1420.7 1162.5,1423.7 1165.6,1421.9 1168.7,1418.7 1171.6,1420.9 1174.6,1425.5 1177.5,1426.0 1180.8,1429.3 1184.0,1426.0" fill="none" stroke="#000000" stroke-width="11" stroke-linejoin="round" stroke-linecap="butt"/>

</svg></body></html>
